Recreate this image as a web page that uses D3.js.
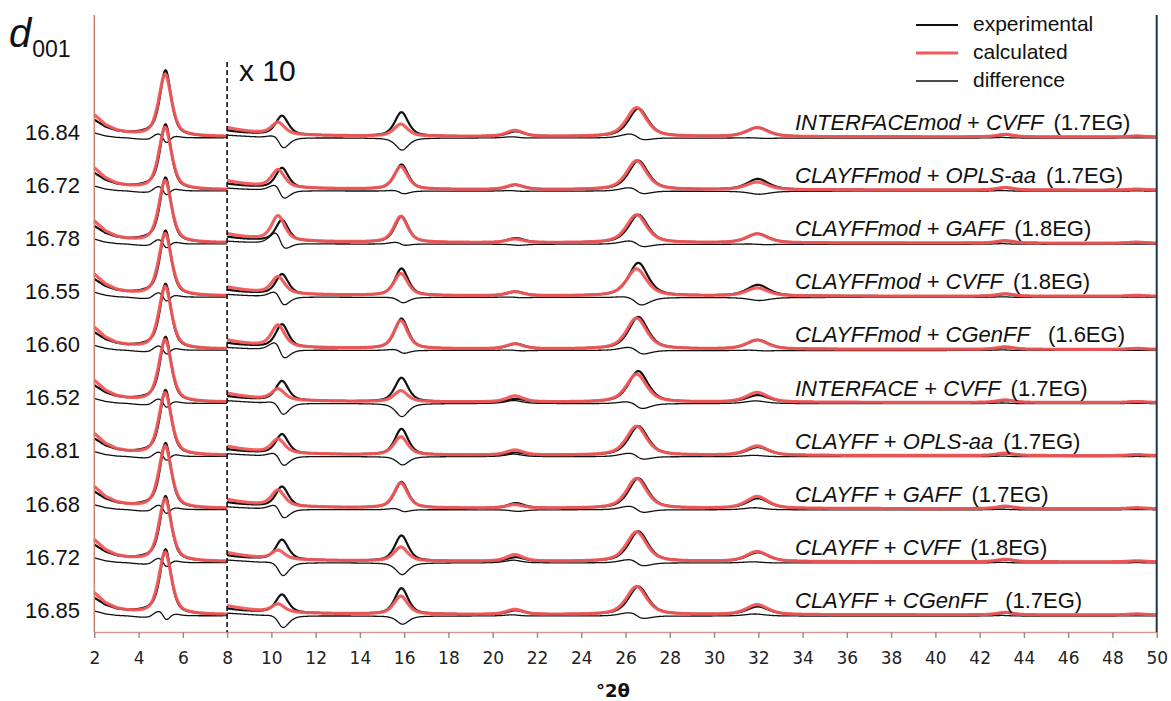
<!DOCTYPE html>
<html lang="en">
<head>
  <meta charset="UTF-8" />
  <title>XRD patterns - d001</title>
  <script src="https://d3js.org/d3.v7.min.js"></script>
  <style>
    body { margin: 0; background: #fff; }
    svg text { font-family: "Liberation Sans", Arial, sans-serif; fill: #111; }
    .xaxis text { font-family: "DejaVu Sans", Verdana, sans-serif; font-size: 17px; fill: #222; }
  </style>
</head>
<body>
  <svg id="chart" width="1171" height="701"></svg>

  <script>
    // --- data ---
    const ffClay = ["INTERFACEmod", "CLAYFFmod", "CLAYFFmod", "CLAYFFmod", "CLAYFFmod",
                    "INTERFACE", "CLAYFF", "CLAYFF", "CLAYFF", "CLAYFF"];
    const ffOrg  = ["CVFF", "OPLS-aa", "GAFF", "CVFF", "CGenFF",
                    "CVFF", "OPLS-aa", "GAFF", "CVFF", "CGenFF"];
    const egLoad = ["1.7EG", "1.7EG", "1.8EG", "1.8EG", "1.6EG",
                    "1.7EG", "1.7EG", "1.7EG", "1.8EG", "1.7EG"];
    const d001   = ["16.84", "16.72", "16.78", "16.55", "16.60",
                    "16.52", "16.81", "16.68", "16.72", "16.85"];
    const xTicks = d3.range(2, 51, 2);
    const breakAt = 8;      // above this angle intensities are shown x 10
    const zoomFactor = 10;

    // reflections (°2θ) and half widths
    const expPos  = [5.22, 10.48, 15.88, 21.05, 26.58, 31.98, 43.2, 49.1];
    const calcPos = [5.20, 10.30, 15.85, 21.00, 26.50, 31.95, 43.15, 49.1];
    const expHw   = [0.30, 0.34, 0.36, 0.45, 0.52, 0.58, 0.45, 0.45];
    const calcHw  = [0.34, 0.36, 0.37, 0.45, 0.54, 0.58, 0.45, 0.45];

    // peak intensities per model (a.u., before the x10 zoom)
    const expH = [
      [65, 1.90, 2.40, 0.50, 2.80, 0.90, 0.20, 0.08],
      [64, 2.00, 2.47, 0.45, 2.90, 1.07, 0.20, 0.08],
      [64, 2.10, 2.60, 0.45, 2.80, 0.90, 0.20, 0.08],
      [64, 2.00, 2.70, 0.40, 3.30, 1.10, 0.20, 0.08],
      [64, 2.30, 3.00, 0.50, 3.20, 0.90, 0.20, 0.08],
      [64, 1.94, 2.40, 0.30, 3.10, 0.70, 0.20, 0.08],
      [64, 1.93, 2.60, 0.25, 2.90, 0.80, 0.20, 0.08],
      [64, 2.00, 2.60, 0.50, 3.00, 1.00, 0.20, 0.08],
      [64, 2.00, 2.56, 0.40, 3.00, 0.90, 0.20, 0.08],
      [64, 1.83, 2.60, 0.40, 2.80, 0.80, 0.20, 0.08]
    ];
    const calcH = [
      [62, 1.20, 1.20, 0.60, 2.90, 0.90, 0.25, 0.10],
      [62, 1.77, 2.27, 0.47, 2.90, 0.77, 0.25, 0.10],
      [62, 2.47, 2.60, 0.35, 2.80, 0.90, 0.25, 0.10],
      [62, 1.70, 2.20, 0.40, 2.70, 0.80, 0.25, 0.10],
      [62, 2.17, 2.80, 0.50, 3.10, 0.90, 0.25, 0.10],
      [62, 1.10, 1.10, 0.60, 2.80, 0.97, 0.25, 0.10],
      [62, 1.40, 1.80, 0.50, 2.90, 0.93, 0.25, 0.10],
      [62, 1.60, 2.50, 0.35, 3.00, 1.20, 0.25, 0.10],
      [62, 0.90, 1.40, 0.66, 2.96, 1.00, 0.25, 0.10],
      [62, 0.83, 1.80, 0.50, 2.80, 1.00, 0.25, 0.10]
    ];

    // background readings
    const bgX    = [2, 2.5, 3, 3.5, 4, 4.5, 5, 6, 7, 8, 10, 14, 20, 30, 50];
    const calcBg = [22, 12, 6.5, 4.0, 2.5, 1.5, 1.0, 0.6, 0.45, 0.40, 0.12, 0.05, 0.03, 0.02, 0];
    const expBg  = [17, 10, 6.0, 4.2, 4.0, 4.2, 2.0, 0.8, 0.40, 0.20, 0.10, 0.05, 0.03, 0.03, 0];

    // --- layout ---
    const svg = d3.select("#chart");
    const x = d3.scaleLinear().domain([2, 50]).range([94.3, 1156.7]);
    const step = 53.1;                       // vertical offset between patterns
    const y = d3.scaleLinear().domain([0, 9 * step]).range([615, 137]);
    const offset = i => (9 - i) * step;

    const expBgScale = d3.scaleLinear().domain(bgX).range(expBg).clamp(true);
    const calcBgScale = d3.scaleLinear().domain(bgX).range(calcBg).clamp(true);

    // pseudo-Voigt profile of one reflection
    function profile(t, c, w, h) {
      const u = (t - c) / w;
      return h * (0.6 / (1 + u * u) + 0.4 * Math.exp(-Math.LN2 * u * u));
    }
    function pattern(t, pos, hw, heights, bg) {
      let v = bg(t);
      pos.forEach((c, k) => { v += profile(t, c, hw[k], heights[k]); });
      return v;
    }

    const lowX = d3.range(2, breakAt + 1e-9, 0.02);
    const highX = d3.range(breakAt, 50 + 1e-9, 0.02);

    const line = d3.line().x(d => x(d[0])).y(d => y(d[1]));

    const colors = { exp: "#111", calc: "#f0585a", diff: "#111" };

    const plot = svg.append("g");

    d3.range(10).forEach(i => {
      const g = plot.append("g");
      [lowX, highX].forEach(xs => {
        const f = xs === lowX ? 1 : zoomFactor;
        const e = xs.map(t => pattern(t, expPos, expHw, expH[i], expBgScale));
        const c = xs.map(t => pattern(t, calcPos, calcHw, calcH[i], calcBgScale));
        const diff = xs.map((t, k) => [t, offset(i) - 1 + f * (c[k] - e[k])]);
        g.append("path").attr("d", line(diff))
          .attr("fill", "none").attr("stroke", colors.diff).attr("stroke-width", 1.3);
        g.append("path").attr("d", line(xs.map((t, k) => [t, offset(i) + f * e[k]])))
          .attr("fill", "none").attr("stroke", colors.exp).attr("stroke-width", 2.2);
        g.append("path").attr("d", line(xs.map((t, k) => [t, offset(i) + f * c[k]])))
          .attr("fill", "none").attr("stroke", colors.calc).attr("stroke-width", 3.2)
          .attr("stroke-opacity", 0.95);
      });

      // d-spacing on the left
      svg.append("text")
        .attr("x", 80).attr("y", y(offset(i)) - 3)
        .attr("text-anchor", "end").attr("dominant-baseline", "middle")
        .attr("font-size", 22).text(d001[i]);

      // force field label
      const lab = svg.append("text")
        .attr("x", 795).attr("y", y(offset(i)) - 7)
        .attr("font-size", 22).style("white-space", "pre");
      lab.append("tspan").attr("font-style", "italic").text(ffClay[i]);
      lab.append("tspan").text(" + ");
      lab.append("tspan").attr("font-style", "italic").text(ffOrg[i]);
      lab.append("tspan").attr("dx", ffOrg[i] === "CGenFF" ? 18 : 10).text("(" + egLoad[i] + ")");
    });

    // axes
    const xAxis = d3.axisBottom(x).tickValues(xTicks).tickSize(6).tickSizeOuter(0).tickPadding(14);
    const ax = svg.append("g").attr("class", "xaxis").attr("transform", "translate(0,632)").call(xAxis);
    ax.select(".domain").attr("stroke", "#d39c8e").attr("stroke-width", 1.5);
    ax.selectAll(".tick line").attr("stroke", "#a48c86").attr("stroke-width", 1.5);

    svg.append("line").attr("x1", x(2)).attr("x2", x(2)).attr("y1", 15).attr("y2", 632)
      .attr("stroke", "#c8826f").attr("stroke-width", 1.5);
    svg.append("line").attr("x1", x(50)).attr("x2", x(50)).attr("y1", 15).attr("y2", 632)
      .attr("stroke", "#1d3550").attr("stroke-width", 2);

    // x10 break line
    svg.append("line").attr("x1", x(breakAt)).attr("x2", x(breakAt)).attr("y1", 62).attr("y2", 632)
      .attr("stroke", "#111").attr("stroke-width", 1.6).attr("stroke-dasharray", "5,3");
    svg.append("text").attr("x", 239).attr("y", 81).attr("font-size", 30).text("x 10");

    // axis titles
    svg.append("text").attr("x", 613).attr("y", 697).attr("text-anchor", "middle")
      .style("font-family", "'DejaVu Sans', Verdana, sans-serif")
      .attr("font-size", 18).attr("font-weight", "bold").text("°2θ");
    const dt = svg.append("text").attr("x", 9).attr("y", 47);
    dt.append("tspan").attr("font-size", 40).attr("font-style", "italic").text("d");
    dt.append("tspan").attr("font-size", 23).attr("dy", 10).attr("dx", 1).text("001");

    // legend
    const legend = [
      { name: "experimental", color: colors.exp, w: 2.2 },
      { name: "calculated", color: colors.calc, w: 3.2 },
      { name: "difference", color: colors.diff, w: 1.3 }
    ];
    legend.forEach((d, k) => {
      const ly = 25 + k * 28;
      svg.append("line").attr("x1", 916).attr("x2", 958).attr("y1", ly).attr("y2", ly)
        .attr("stroke", d.color).attr("stroke-width", d.w);
      svg.append("text").attr("x", 973).attr("y", ly).attr("dominant-baseline", "middle")
        .attr("font-size", 21).text(d.name);
    });
  </script>
</body>
</html>
